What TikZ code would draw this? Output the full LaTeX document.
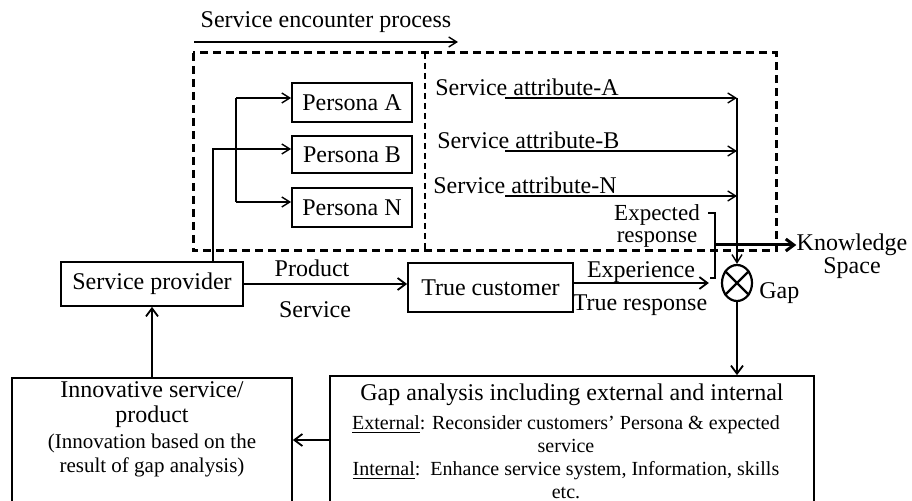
\documentclass[tikz,border=0pt]{standalone}
\usepackage{fontspec}
\setmainfont{Liberation Serif}
\usetikzlibrary{arrows.meta,shapes.geometric}
\tikzset{
  box/.style={draw,line width=0.9pt,inner sep=0pt},
  lbl/.style={inner sep=0pt,font=\fontsize{12}{14}\selectfont},
  note/.style={inner sep=0pt,align=center,font=\fontsize{10}{11.5}\selectfont},
  link/.style={line width=0.9pt,-{Straight Barb[length=4pt,width=6pt]}},
  thinlink/.style={line width=0.7pt,-{Straight Barb[length=4pt,width=5pt]}},
}
\begin{document}
\begin{tikzpicture}[x=0.5pt,y=-0.5pt]
\useasboundingbox (0,0) rectangle (912,501);
\node[lbl] (encounter) at (326,22) {Service encounter process};
\coordinate (encstart) at (194,42);
\coordinate (encend) at (458,42);
\draw[thinlink] (encstart) -- (encend);
\draw[line width=1.5pt,dash pattern=on 4pt off 2.5pt] (193,53) rectangle (776,251);
\draw[line width=0.6pt,dash pattern=on 3pt off 2pt] (425,53) -- (425,251);
\node[box,minimum width=60pt,minimum height=19.5pt,lbl] (pa) at (352,102.5) {Persona A};
\node[box,minimum width=60pt,minimum height=18.5pt,lbl] (pb) at (352,154.5) {Persona B};
\node[box,minimum width=60pt,minimum height=19.5pt,lbl] (pn) at (352,207.5) {Persona N};
\node[box,minimum width=91pt,minimum height=22pt,lbl] (sp) at (152,284) {Service provider};
\node[box,minimum width=82.5pt,minimum height=24.5pt,lbl] (tc) at (490.5,287.5) {True customer};
\node[draw,ellipse,line width=1.1pt,minimum width=15pt,minimum height=18pt,inner sep=0pt] (gap) at (737,283) {};
\draw[line width=1.1pt] (gap.45) -- (gap.225) (gap.135) -- (gap.315);
\node[lbl,anchor=west] (gaplbl) at (759,293) {Gap};
\node[box,minimum width=140pt,minimum height=63pt] (innov) at (152,441) {};
\node[box,minimum width=242pt,minimum height=64pt] (gapbox) at (572,440) {};
\node[lbl,align=center,font=\fontsize{12}{12.5}\selectfont] (innovtext) at (152,405) {Innovative service/\\product};
\node[note,font=\fontsize{10.5}{12}\selectfont] (innovnote) at (152,455) {(Innovation based on the\\result of gap analysis)};
\node[lbl] (gaptitle) at (572,395) {Gap analysis including external and internal};
\node[note] (gapbody) at (566,457) {\underline{External}: Reconsider customers' Persona \& expected\\service\\\underline{Internal}:\ \ Enhance service system, Information, skills\\etc.};
\coordinate (fork) at (213,149);
\coordinate (bustop) at (236,98);
\coordinate (busbot) at (236,202);
\draw[thinlink] (sp.north -| fork) -- (fork) -- (fork -| pb.west);
\draw[line width=0.7pt] (bustop) -- (busbot);
\draw[thinlink] (bustop) -- (bustop -| pa.west);
\draw[thinlink] (busbot) -- (busbot -| pn.west);
\node[lbl,anchor=base west] (attra) at (435,96) {Service attribute-A};
\node[lbl,anchor=base west] (attrb) at (437,149) {Service attribute-B};
\node[lbl,anchor=base west] (attrn) at (433,194) {Service attribute-N};
\coordinate (linea) at (505,98);
\coordinate (lineb) at (505,151);
\coordinate (linen) at (505,196);
\draw[thinlink] (linea) -- (linea -| gap);
\draw[thinlink] (lineb) -- (lineb -| gap);
\draw[thinlink] (linen) -- (linen -| gap);
\draw[thinlink] (linea -| gap) -- (gap.north);
\node[lbl,align=center,font=\fontsize{11.5}{11}\selectfont] (expected) at (657,226) {Expected\\response};
\coordinate (brtop) at (715,213);
\coordinate (brmid) at (715,245);
\coordinate (brbot) at (715,278);
\draw[line width=0.9pt] ([xshift=-3.5pt]brtop) -- (brtop) -- (brbot) -- ([xshift=-2.5pt]brbot);
\node[lbl,align=center,font=\fontsize{12}{11.5}\selectfont] (know) at (852,256) {Knowledge\\Space};
\draw[line width=1.5pt,-{Straight Barb[length=4pt,width=6pt]}] (brmid) -- (brmid -| know.west);
\node[lbl] (prod) at (312,268) {Product};
\node[lbl] (serv) at (315,310) {Service};
\draw[link] (sp.east) -- (sp.east -| tc.west);
\node[lbl] (exper) at (641,272) {Experience};
\node[lbl] (trueresp) at (640,305) {True response};
\draw[link] (tc.east |- gap) -- ([xshift=-6pt]gap.west);
\draw[link] (gap.south) -- (gap.south |- gapbox.north);
\draw[link] (gapbox.west) -- (gapbox.west -| innov.east);
\draw[link] (innov.north) -- (sp.south);
\end{tikzpicture}
\end{document}
